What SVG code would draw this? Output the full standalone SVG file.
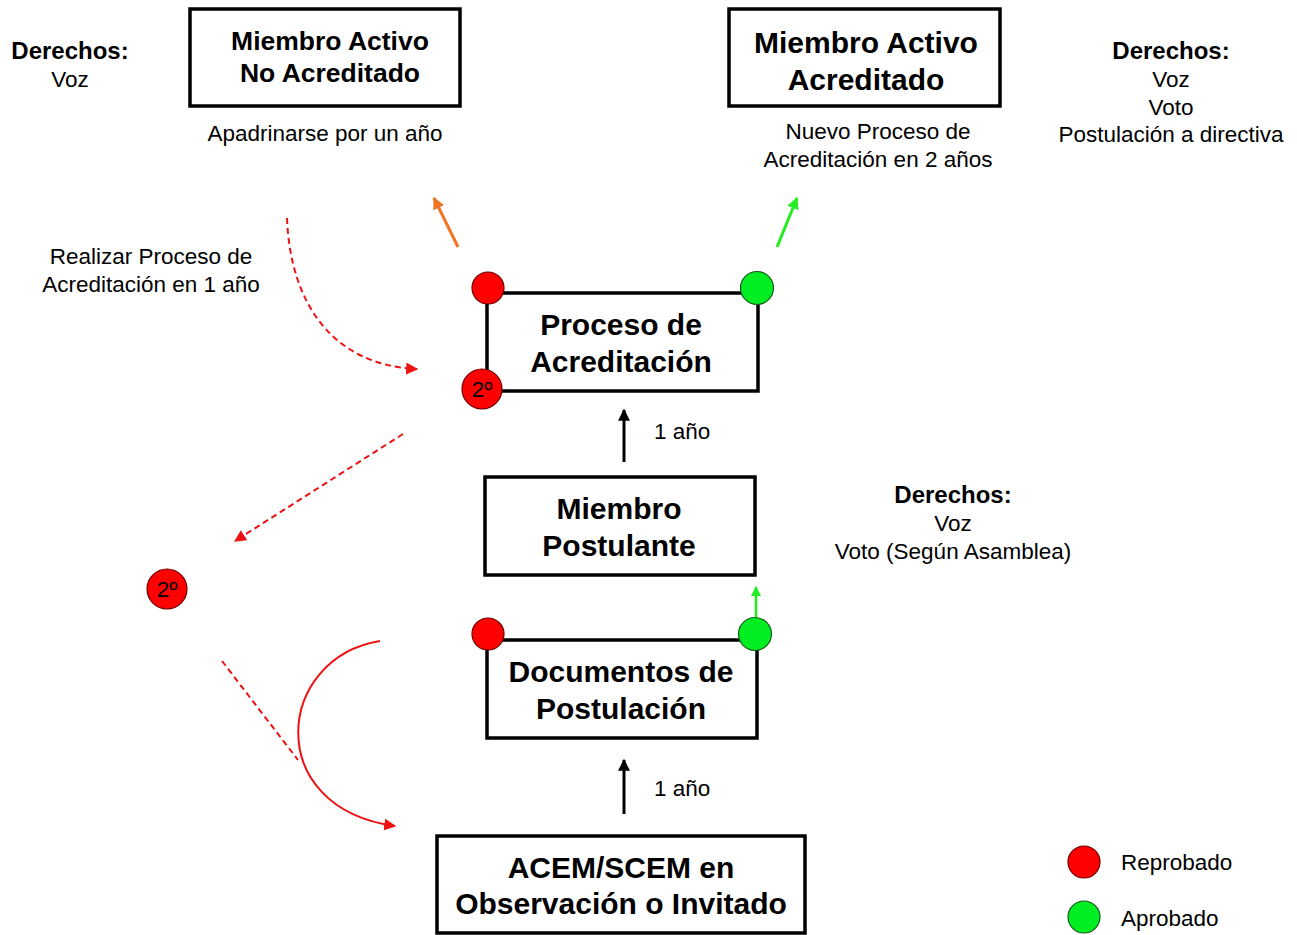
<svg xmlns="http://www.w3.org/2000/svg" width="1297" height="935" viewBox="0 0 1297 935">
<style>
text{font-family:"Liberation Sans",Arial,sans-serif;fill:#000}
.b{font-weight:bold;text-anchor:middle}
.t{font-size:30px}
.r{font-size:22.5px}
.c{text-anchor:middle}
.box{fill:#fff;stroke:#000;stroke-width:3.5}
.red{fill:#ff0000;stroke:#6a0000;stroke-width:1.2}
.grn{fill:#00ee22;stroke:#1a5a1a;stroke-width:1.2}
.dash{fill:none;stroke:#ee1111;stroke-width:2;stroke-dasharray:6 4}
</style>
<defs>
<marker id="ab" viewBox="0 0 10 10" refX="9" refY="5" markerWidth="4" markerHeight="4" orient="auto"><path d="M0,0L10,5L0,10z" fill="#000"/></marker>
<marker id="ao" viewBox="0 0 10 10" refX="9" refY="5" markerWidth="4" markerHeight="4" orient="auto"><path d="M0,0L10,5L0,10z" fill="#f07522"/></marker>
<marker id="ag" viewBox="0 0 10 10" refX="9" refY="5" markerWidth="4" markerHeight="4" orient="auto"><path d="M0,0L10,5L0,10z" fill="#22ee22"/></marker>
<marker id="ar" viewBox="0 0 10 10" refX="9" refY="5" markerWidth="6" markerHeight="6" orient="auto"><path d="M0,0L10,5L0,10z" fill="#ee1111"/></marker>
</defs>

<g id="connectors">
<line x1="458" y1="247" x2="434" y2="198" stroke="#f07522" stroke-width="3" marker-end="url(#ao)"/>
<line x1="777" y1="247" x2="797" y2="198" stroke="#22ee22" stroke-width="3" marker-end="url(#ag)"/>
<line x1="624" y1="462" x2="624" y2="410" stroke="#000" stroke-width="3" marker-end="url(#ab)"/>
<line x1="624" y1="814" x2="624" y2="760" stroke="#000" stroke-width="3" marker-end="url(#ab)"/>
<line x1="756" y1="618" x2="756" y2="587" stroke="#22ee22" stroke-width="2.5" marker-end="url(#ag)"/>
<path class="dash" d="M287,218 C290,300 330,365 417,369" marker-end="url(#ar)"/>
<line class="dash" x1="403" y1="434" x2="235" y2="541" marker-end="url(#ar)"/>
<line class="dash" x1="222" y1="661" x2="298" y2="760"/>
<path d="M380,641 C275,658 262,808 395,826" fill="none" stroke="#ee1111" stroke-width="2" marker-end="url(#ar)"/>
</g>

<g id="n-no-acreditado">
<rect class="box" x="190" y="9" width="270" height="97"/>
<text class="b" x="330" y="50" font-size="26.5px">Miembro Activo</text>
<text class="b" x="330" y="82" font-size="26.5px">No Acreditado</text>
<text class="r c" x="325" y="141">Apadrinarse por un año</text>
</g>

<g id="n-derechos-izq">
<text class="b" x="70" y="59" font-size="24px">Derechos:</text>
<text class="r c" x="70" y="87">Voz</text>
</g>

<g id="n-acreditado">
<rect class="box" x="729" y="9" width="271" height="97"/>
<text class="b t" x="866" y="53">Miembro Activo</text>
<text class="b t" x="866" y="90">Acreditado</text>
<text class="r c" x="878" y="139">Nuevo Proceso de</text>
<text class="r c" x="878" y="167">Acreditación en 2 años</text>
</g>

<g id="n-derechos-der">
<text class="b" x="1171" y="59" font-size="24px">Derechos:</text>
<text class="r c" x="1171" y="87">Voz</text>
<text class="r c" x="1171" y="115">Voto</text>
<text class="r c" x="1171" y="142">Postulación a directiva</text>
</g>

<g id="n-realizar">
<text class="r c" x="151" y="264">Realizar Proceso de</text>
<text class="r c" x="151" y="292">Acreditación en 1 año</text>
</g>

<g id="n-proceso">
<rect class="box" x="487" y="293" width="271" height="98"/>
<text class="b t" x="621" y="335">Proceso de</text>
<text class="b t" x="621" y="372">Acreditación</text>
<circle class="red" cx="488" cy="288" r="16"/>
<circle class="grn" cx="757" cy="288" r="16.5"/>
<circle class="red" cx="482" cy="389" r="20"/>
<text class="r c" x="482" y="397">2º</text>
</g>

<g id="n-1anio-a"><text class="r" x="654" y="439">1 año</text></g>

<g id="n-postulante">
<rect class="box" x="485" y="477" width="270" height="98"/>
<text class="b t" x="619" y="519">Miembro</text>
<text class="b t" x="619" y="556">Postulante</text>
</g>

<g id="n-derechos-med">
<text class="b" x="953" y="503" font-size="24px">Derechos:</text>
<text class="r c" x="953" y="531">Voz</text>
<text class="r c" x="953" y="559">Voto (Según Asamblea)</text>
</g>

<g id="n-segundo">
<circle class="red" cx="167" cy="589" r="20"/>
<text class="r c" x="167" y="597">2º</text>
</g>

<g id="n-documentos">
<rect class="box" x="487" y="640" width="270" height="98"/>
<text class="b t" x="621" y="682">Documentos de</text>
<text class="b t" x="621" y="719">Postulación</text>
<circle class="red" cx="488" cy="634" r="16"/>
<circle class="grn" cx="755" cy="634" r="16.5"/>
</g>

<g id="n-1anio-b"><text class="r" x="654" y="796">1 año</text></g>

<g id="n-acem">
<rect class="box" x="437" y="836" width="368" height="97"/>
<text class="b t" x="621" y="878">ACEM/SCEM en</text>
<text class="b t" x="621" y="914">Observación o Invitado</text>
</g>

<g id="legend">
<circle class="red" cx="1084" cy="862" r="16"/>
<text class="r" x="1121" y="870">Reprobado</text>
<circle class="grn" cx="1084" cy="917" r="16"/>
<text class="r" x="1121" y="926">Aprobado</text>
</g>
</svg>
